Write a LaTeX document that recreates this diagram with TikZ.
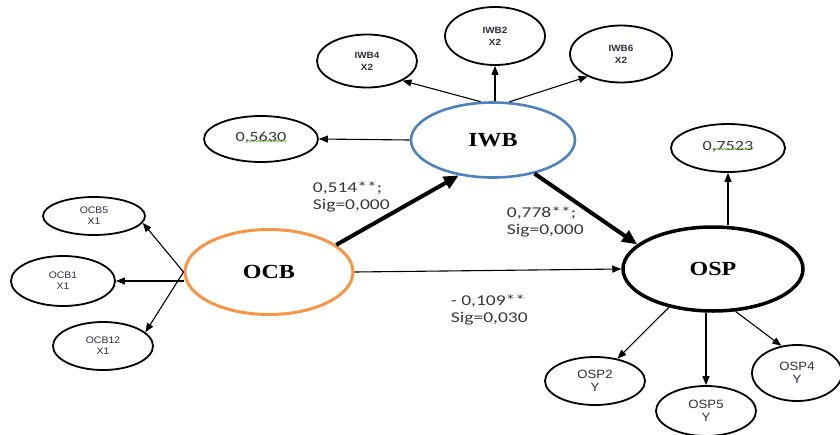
\documentclass[tikz,border=0pt]{standalone}
\usepackage{fontspec}
\newfontfamily\latfont[FakeStretch=1.2]{Liberation Serif}
\newfontfamily\itemfont[FakeStretch=1.1]{Liberation Sans}
\newfontfamily\coeffont[FakeStretch=1.3]{Carlito}
\usetikzlibrary{arrows.meta,shapes.geometric,decorations.pathmorphing}
\definecolor{ocborange}{RGB}{247,150,70}
\definecolor{iwbblue}{RGB}{79,129,189}
\definecolor{spellgreen}{RGB}{90,170,60}
\definecolor{itemtext}{RGB}{45,45,65}
\definecolor{coeftext}{RGB}{55,55,55}

\begin{document}
\begin{tikzpicture}[x=1pt,y=-1pt,line width=1.2pt,
  latent/.style={ellipse,draw,inner sep=0pt,font=\latfont\bfseries\fontsize{20}{22}\selectfont},
  item/.style={ellipse,draw,line width=1.8pt,inner sep=0pt,align=center,text=itemtext},
  resid/.style={ellipse,draw,line width=1.8pt,inner sep=0pt,text=coeftext,font=\coeffont\fontsize{14}{16}\selectfont},
  path/.style={-{Triangle[length=9pt,width=7pt]},line width=1.1pt},
  heavy/.style={-{Triangle[length=15pt,width=13pt]},line width=4pt},
  coef/.style={anchor=west,align=left,text=coeftext,font=\coeffont\fontsize{15}{17}\selectfont},
  squiggle/.style={spellgreen,line width=0.7pt,decorate,decoration={snake,amplitude=0.7pt,segment length=3.5pt}}]
  \useasboundingbox (0,0) rectangle (840,434);
  \node[latent,draw=iwbblue,line width=2.6pt,minimum width=164,minimum height=75] (iwb) at (493,140) {IWB};
  \node[latent,draw=ocborange,line width=3pt,minimum width=168,minimum height=85] (ocb) at (269,272) {OCB};
  \node[latent,line width=3.5pt,minimum width=180,minimum height=84] (osp) at (713,269) {OSP};
  \foreach \n/\x/\y/\w/\h/\t in {iwb4/367/61/100/53/{IWB4\\X2},iwb2/495/36/100/58/{IWB2\\X2},iwb6/621/54/102/57/{IWB6\\X2}}
    \node[item,minimum width=\w,minimum height=\h,font=\itemfont\bfseries\fontsize{9}{12}\selectfont] (\n) at (\x,\y) {\t};
  \foreach \n/\x/\y/\w/\h/\t in {ocb5/94/216/102/38/{OCB5\\X1},ocb1/63/281/104/50/{OCB1\\X1},ocb12/103/346/100/48/{OCB12\\X1}}
    \node[item,minimum width=\w,minimum height=\h,font=\itemfont\fontsize{9.5}{11}\selectfont] (\n) at (\x,\y) {\t};
  \foreach \n/\x/\y/\w/\h/\t in {osp2/595/381/100/48/{OSP2\\Y},osp5/706/411/100/50/{OSP5\\Y},osp4/797/373/90/56/{OSP4\\Y}}
    \node[item,minimum width=\w,minimum height=\h,font=\itemfont\fontsize{12}{13}\selectfont] (\n) at (\x,\y) {\t};
  \node[resid,minimum width=114,minimum height=46] (r1) at (261,139) {\raisebox{4pt}{0,5630}};
  \node[resid,minimum width=114,minimum height=48] (r2) at (728,148) {\raisebox{4pt}{0,7523}};
  \draw[squiggle] ([shift={(-14,2)}]r1.center) -- ([shift={(26,2)}]r1.center);
  \draw[squiggle] ([shift={(-15,1)}]r2.center) -- ([shift={(25,1)}]r2.center);

  \node[coef] (c1) at (309,196.5) {0,514**;\\Sig=0,000};
  \node[coef] (c2) at (503,221.5) {0,778**;\\Sig=0,000};
  \node[coef] (c3) at (447,310) {- 0,109**\\Sig=0,030};

  \draw[path] (iwb.108) -- (iwb4.331);
  \draw[path] (iwb.north -| iwb2.south) -- (iwb2.south);
  \draw[path] (iwb.67) -- (iwb6.214);
  \draw[path] (iwb.west) -- (r1.east);
  \draw[path] (osp.north -| r2.south) -- (r2.south);
  \foreach \t/\a in {ocb5/352,ocb12/18}
    \draw[path] (ocb.west) -- (\t.\a);
  \draw[path] (ocb1.east -| ocb.west) -- (ocb1.east);
  \draw[path] (osp.221) -- (osp2);
  \draw[path] (osp.south -| osp5.north) -- (osp5.north);
  \draw[path] (osp.298) -- (osp4.120);
  \draw[path] (ocb.east) -- (osp.west);
  \draw[heavy] (ocb.22) -- (iwb.226);
  \draw[heavy] (iwb.321) -- (osp.162);
\end{tikzpicture}
\end{document}
